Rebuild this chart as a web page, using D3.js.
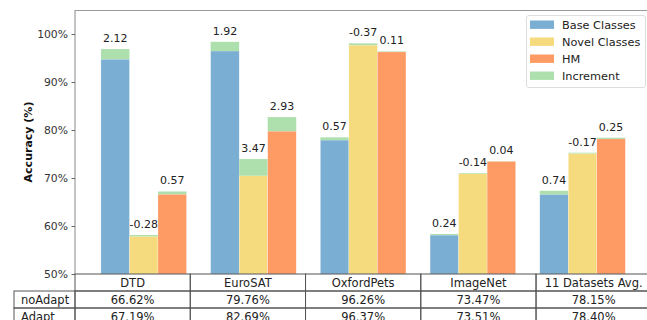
<!DOCTYPE html>
<html>
<head>
<meta charset="utf-8">
<script src="https://cdn.jsdelivr.net/npm/d3@7"></script>
<style>
  html, body { margin: 0; padding: 0; background: #fff; }
  svg { display: block; font-family: "DejaVu Sans", sans-serif; }
</style>
</head>
<body>
<svg id="chart" width="647" height="320"></svg>
<script>
// ---- data ----
const categories = ["DTD", "EuroSAT", "OxfordPets", "ImageNet", "11 Datasets Avg."];
const seriesNames = ["Base Classes", "Novel Classes", "HM", "Increment"];
// value before adaptation and increment after adaptation
const baseValues  = [94.75, 96.45, 77.90, 58.10, 66.60];
const baseInc     = [2.12, 1.92, 0.57, 0.24, 0.74];
const novelValues = [58.13, 70.48, 98.05, 71.04, 75.27];
const novelInc    = [-0.28, 3.47, -0.37, -0.14, -0.17];
const hmValues    = [66.62, 79.76, 96.26, 73.47, 78.15];
const hmInc       = [0.57, 2.93, 0.11, 0.04, 0.25];
const yTicks = [50, 60, 70, 80, 90, 100];
const rowLabels = ["noAdapt", "Adapt"];
const noAdaptText = ["66.62%", "79.76%", "96.26%", "73.47%", "78.15%"];
const adaptText   = ["67.19%", "82.69%", "96.37%", "73.51%", "78.40%"];

const colors = ["#7aaed3", "#f6db7e", "#fe9a63", "#aee0ae"];

// ---- layout ----
const svg = d3.select("#chart");
const pL = 75, pR = 651.3, pT = 10, pB = 274;
const barW = 0.26;

const x = d3.scaleLinear().domain([-0.6264, 4.6264]).range([pL, pR]);
const y = d3.scaleLinear().domain([50, 105]).range([pB, pT]);
const pxW = x(barW) - x(0);

const series = [
  { vals: baseValues, inc: baseInc, off: -1 },
  { vals: novelValues, inc: novelInc, off: 0 },
  { vals: hmValues, inc: hmInc, off: 1 }
];

const g = svg.append("g");

series.forEach((s, si) => {
  const data = categories.map((c, i) => {
    const a = s.vals[i], b = s.vals[i] + s.inc[i];
    return { i, lo: Math.min(a, b), hi: Math.max(a, b), inc: s.inc[i] };
  });
  const cx = d => x(d.i + s.off * barW);
  g.selectAll(null).data(data).enter().append("rect")
    .attr("x", d => cx(d) - pxW / 2)
    .attr("width", pxW)
    .attr("y", d => y(d.lo))
    .attr("height", d => y(50) - y(d.lo))
    .attr("fill", colors[si])
    .attr("stroke", "#fff").attr("stroke-width", 0.4).attr("stroke-opacity", 0.6);
  g.selectAll(null).data(data).enter().append("rect")
    .attr("x", d => cx(d) - pxW / 2)
    .attr("width", pxW)
    .attr("y", d => y(d.hi))
    .attr("height", d => y(d.lo) - y(d.hi))
    .attr("fill", colors[3]);
  g.selectAll(null).data(data).enter().append("text")
    .attr("x", d => cx(d))
    .attr("y", d => y(d.hi) - 7)
    .attr("text-anchor", "middle")
    .attr("font-size", 11)
    .attr("fill", "#222")
    .text(d => d.inc.toFixed(2));
});

// spines
svg.append("line").attr("x1", pL).attr("x2", pL).attr("y1", pT).attr("y2", pB)
  .attr("stroke", "#888").attr("stroke-width", 1);
svg.append("line").attr("x1", pL).attr("x2", 647).attr("y1", pT + 0.5).attr("y2", pT + 0.5)
  .attr("stroke", "#999").attr("stroke-width", 1);

// y axis
const yAxis = d3.axisLeft(y).tickValues(yTicks).tickSize(3.5).tickPadding(3.5)
  .tickFormat(d => d + "%");
const ya = svg.append("g").attr("transform", `translate(${pL},0)`).call(yAxis);
ya.select(".domain").remove();
ya.selectAll(".tick line").attr("stroke", "#666");
ya.selectAll(".tick text").attr("font-size", 10.8).attr("fill", "#333")
  .attr("font-family", "DejaVu Sans, sans-serif");

svg.append("text")
  .attr("transform", `translate(32,142) rotate(-90)`)
  .attr("text-anchor", "middle")
  .attr("font-size", 11).attr("font-weight", "bold").attr("fill", "#111")
  .text("Accuracy (%)");

// legend
const lg = svg.append("g");
lg.append("rect").attr("x", 526.5).attr("y", 15.5).attr("width", 119).attr("height", 72)
  .attr("rx", 2.5).attr("fill", "#fff").attr("fill-opacity", 0.8)
  .attr("stroke", "#ddd").attr("stroke-width", 1);
seriesNames.forEach((n, k) => {
  const cy = 24.7 + k * 17;
  lg.append("rect").attr("x", 530).attr("y", cy - 4.2).attr("width", 24).attr("height", 8.4)
    .attr("fill", colors[k]);
  lg.append("text").attr("x", 562).attr("y", cy + 4.1).attr("font-size", 11.3)
    .attr("fill", "#222").text(n);
});

// table
const colW = (pR - pL) / categories.length;
const rowH = 17;
const tTop = pB;
const tg = svg.append("g");
const lineC = "#555";
categories.forEach((c, j) => {
  const x0 = pL + j * colW;
  tg.append("rect").attr("x", x0).attr("y", tTop).attr("width", colW).attr("height", rowH)
    .attr("fill", "none").attr("stroke", lineC).attr("stroke-width", 1);
  tg.append("text").attr("x", x0 + colW / 2).attr("y", tTop + rowH / 2 + 4.2)
    .attr("text-anchor", "middle").attr("font-size", 11.5).attr("fill", "#222").text(c);
});
[noAdaptText, adaptText].forEach((row, r) => {
  const y0 = tTop + rowH * (r + 1);
  tg.append("rect").attr("x", 14).attr("y", y0).attr("width", pL - 14).attr("height", rowH)
    .attr("fill", "none").attr("stroke", lineC).attr("stroke-width", 1);
  tg.append("text").attr("x", 21).attr("y", y0 + rowH / 2 + 4.2)
    .attr("font-size", 11.5).attr("fill", "#222").text(rowLabels[r]);
  row.forEach((t, j) => {
    const x0 = pL + j * colW;
    tg.append("rect").attr("x", x0).attr("y", y0).attr("width", colW).attr("height", rowH)
      .attr("fill", "none").attr("stroke", lineC).attr("stroke-width", 1);
    tg.append("text").attr("x", x0 + colW / 2).attr("y", y0 + rowH / 2 + 4.2)
      .attr("text-anchor", "middle").attr("font-size", 11.5).attr("fill", "#222").text(t);
  });
});
</script>
</body>
</html>
